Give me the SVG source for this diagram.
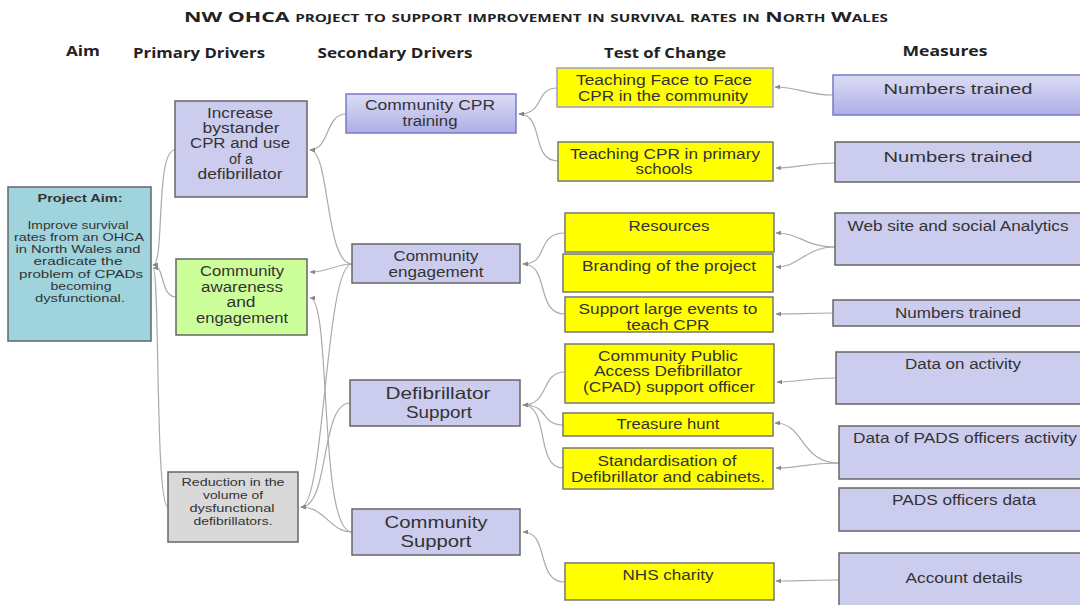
<svg xmlns="http://www.w3.org/2000/svg" width="1080" height="605" viewBox="0 0 1080 605">
  <style>
    .title { font-family: "Open Sans", "Liberation Sans", sans-serif; font-weight: bold; fill: #222; }
    .hdr { font-family: "Open Sans", "Liberation Sans", sans-serif; font-weight: bold; font-size: 14px; fill: #222; text-anchor: middle; }
    .t { font-family: "Liberation Sans", Arial, sans-serif; fill: #333; text-anchor: middle; }
    .lav { fill: #ccccee; stroke: #666; stroke-width: 1.5; }
    .yel { fill: #ffff00; stroke: #777; stroke-width: 1.5; }
    .yelb { fill: #ffff00; stroke: #9a9ad0; stroke-width: 1.5; }
    .con { fill: none; stroke: #aaa; stroke-width: 1.2; marker-end: url(#ah); }
  </style>
  <defs>
    <linearGradient id="lavGrad" x1="0" y1="0" x2="0" y2="1">
      <stop offset="0" stop-color="#dcdcf6"/>
      <stop offset="1" stop-color="#aeaee6"/>
    </linearGradient>
    <marker id="ah" viewBox="0 0 10 10" refX="9" refY="5" markerWidth="6" markerHeight="6" orient="auto" markerUnits="userSpaceOnUse">
      <path d="M0,1 L10,5 L0,9 z" fill="#888"/>
    </marker>
  </defs>

  <rect width="1080" height="605" fill="#fff"/>

  <!-- title and column headings -->
  <text class="title" x="536" y="22" text-anchor="middle" font-size="14" font-variant="small-caps" textLength="704" lengthAdjust="spacingAndGlyphs">NW OHCA project to support improvement in survival rates in North Wales</text>
  <text class="hdr" x="83" y="56" textLength="34" lengthAdjust="spacingAndGlyphs">Aim</text>
  <text class="hdr" x="199" y="58" textLength="132" lengthAdjust="spacingAndGlyphs">Primary Drivers</text>
  <text class="hdr" x="395" y="58" textLength="155" lengthAdjust="spacingAndGlyphs">Secondary Drivers</text>
  <text class="hdr" x="665" y="58" textLength="122" lengthAdjust="spacingAndGlyphs">Test of Change</text>
  <text class="hdr" x="945" y="56" textLength="85" lengthAdjust="spacingAndGlyphs">Measures</text>

  <!-- connectors -->
  <g id="connectors">
    <!-- measures to tests of change -->
    <path class="con" d="M833 95 C805 95 800 87 775 87"/>
    <path class="con" d="M835 163 C805 163 800 168 776 168"/>
    <path class="con" d="M835 247 C805 247 800 233 776 233"/>
    <path class="con" d="M835 247 C805 247 800 267 776 267"/>
    <path class="con" d="M833 313 C805 313 800 314 776 314"/>
    <path class="con" d="M836 378 C805 378 800 382 777 382"/>
    <path class="con" d="M839 463 C800 463 805 423 775 423"/>
    <path class="con" d="M839 463 C805 463 800 468 776 468"/>
    <path class="con" d="M839 580 C805 580 800 581 776 581"/>
    <!-- tests of change to secondary drivers -->
    <path class="con" d="M557 88 C535 88 545 114 519 114"/>
    <path class="con" d="M558 161 C530 161 545 114 519 114"/>
    <path class="con" d="M565 233 C535 233 550 264 523 264"/>
    <path class="con" d="M565 314 C535 314 550 264 523 264"/>
    <path class="con" d="M565 372 C540 372 550 405 523 405"/>
    <path class="con" d="M563 425 C540 425 550 405 523 405"/>
    <path class="con" d="M563 468 C535 468 550 405 523 405"/>
    <path class="con" d="M565 582 C535 582 550 532 523 532"/>
    <!-- secondary drivers to primary drivers -->
    <path class="con" d="M346 114 C325 114 330 150 310 150"/>
    <path class="con" d="M352 264 C325 264 330 150 310 150"/>
    <path class="con" d="M352 264 C335 264 330 272 310 272"/>
    <path class="con" d="M352 264 C325 264 325 507 301 507"/>
    <path class="con" d="M350 403 C320 403 330 507 301 507"/>
    <path class="con" d="M352 532 C318 532 332 298 310 298"/>
    <path class="con" d="M352 532 C330 532 325 507 301 507"/>
    <!-- primary drivers to aim -->
    <path class="con" d="M175 150 C155 150 165 265 153 265"/>
    <path class="con" d="M176 297 C160 297 165 265 153 265"/>
    <path class="con" d="M168 507 C155 507 160 268 153 268"/>
  </g>

  <!-- aim -->
  <g id="aim">
    <rect x="8" y="187" width="143" height="154" fill="#a0d4dc" stroke="#666" stroke-width="1.5"/>
    <text class="t" x="80" y="202" font-size="10.5" font-weight="bold" textLength="85" lengthAdjust="spacingAndGlyphs">Project Aim:</text>
    <text class="t" x="78" y="229" font-size="10.5" textLength="101" lengthAdjust="spacingAndGlyphs">Improve  survival</text>
    <text class="t" x="79" y="241" font-size="10.5" textLength="130" lengthAdjust="spacingAndGlyphs">rates from an OHCA</text>
    <text class="t" x="78" y="253" font-size="10.5" textLength="125" lengthAdjust="spacingAndGlyphs">in North Wales and</text>
    <text class="t" x="78" y="265" font-size="10.5" textLength="89" lengthAdjust="spacingAndGlyphs">eradicate the</text>
    <text class="t" x="81" y="278" font-size="10.5" textLength="124" lengthAdjust="spacingAndGlyphs">problem of CPADs</text>
    <text class="t" x="81" y="290" font-size="10.5" textLength="61" lengthAdjust="spacingAndGlyphs">becoming</text>
    <text class="t" x="80" y="302" font-size="10.5" textLength="90" lengthAdjust="spacingAndGlyphs">dysfunctional.</text>
  </g>

  <!-- primary drivers -->
  <g id="p-bystander">
    <rect class="lav" x="175" y="101" width="132" height="96"/>
    <text class="t" x="240" y="118" font-size="14" textLength="66" lengthAdjust="spacingAndGlyphs">Increase</text>
    <text class="t" x="241" y="133" font-size="14" textLength="77" lengthAdjust="spacingAndGlyphs">bystander</text>
    <text class="t" x="240" y="148" font-size="14" textLength="100" lengthAdjust="spacingAndGlyphs">CPR and use</text>
    <text class="t" x="241" y="164" font-size="14" textLength="24" lengthAdjust="spacingAndGlyphs">of a</text>
    <text class="t" x="240" y="179" font-size="14" textLength="85" lengthAdjust="spacingAndGlyphs">defibrillator</text>
  </g>
  <g id="p-awareness">
    <rect x="176" y="259" width="131" height="76" fill="#ccff99" stroke="#666" stroke-width="1.5"/>
    <text class="t" x="242" y="276" font-size="14" textLength="84" lengthAdjust="spacingAndGlyphs">Community</text>
    <text class="t" x="242" y="292" font-size="14" textLength="82" lengthAdjust="spacingAndGlyphs">awareness</text>
    <text class="t" x="241" y="307" font-size="14" textLength="29" lengthAdjust="spacingAndGlyphs">and</text>
    <text class="t" x="242" y="323" font-size="14" textLength="92" lengthAdjust="spacingAndGlyphs">engagement</text>
  </g>
  <g id="p-reduction">
    <rect x="168" y="472" width="130" height="70" fill="#d9d9d9" stroke="#666" stroke-width="1.5"/>
    <text class="t" x="233" y="486" font-size="11" textLength="103" lengthAdjust="spacingAndGlyphs">Reduction in the</text>
    <text class="t" x="233" y="499" font-size="11" textLength="60" lengthAdjust="spacingAndGlyphs">volume  of</text>
    <text class="t" x="232" y="512" font-size="11" textLength="85" lengthAdjust="spacingAndGlyphs">dysfunctional</text>
    <text class="t" x="233" y="525" font-size="11" textLength="79" lengthAdjust="spacingAndGlyphs">defibrillators.</text>
  </g>

  <!-- secondary drivers -->
  <g id="s-cpr-training">
    <rect x="346" y="94" width="170" height="39" fill="url(#lavGrad)" stroke="#7a7ac4" stroke-width="1.5"/>
    <text class="t" x="430" y="110" font-size="14" textLength="130" lengthAdjust="spacingAndGlyphs">Community  CPR</text>
    <text class="t" x="430" y="126" font-size="14" textLength="55" lengthAdjust="spacingAndGlyphs">training</text>
  </g>
  <g id="s-engagement">
    <rect class="lav" x="352" y="244" width="168" height="39"/>
    <text class="t" x="436" y="261" font-size="14" textLength="85" lengthAdjust="spacingAndGlyphs">Community</text>
    <text class="t" x="436" y="277" font-size="14" textLength="95" lengthAdjust="spacingAndGlyphs">engagement</text>
  </g>
  <g id="s-defib-support">
    <rect class="lav" x="350" y="380" width="170" height="46"/>
    <text class="t" x="438" y="399" font-size="16.5" textLength="105" lengthAdjust="spacingAndGlyphs">Defibrillator</text>
    <text class="t" x="439" y="418" font-size="16.5" textLength="66" lengthAdjust="spacingAndGlyphs">Support</text>
  </g>
  <g id="s-community-support">
    <rect class="lav" x="352" y="509" width="168" height="46"/>
    <text class="t" x="436" y="528" font-size="16.5" textLength="103" lengthAdjust="spacingAndGlyphs">Community</text>
    <text class="t" x="436" y="547" font-size="16.5" textLength="71" lengthAdjust="spacingAndGlyphs">Support</text>
  </g>

  <!-- tests of change -->
  <g id="t-face-to-face">
    <rect class="yelb" x="557" y="68" width="216" height="39"/>
    <text class="t" x="664" y="85" font-size="14" textLength="176" lengthAdjust="spacingAndGlyphs">Teaching Face to Face</text>
    <text class="t" x="663" y="101" font-size="14" textLength="170" lengthAdjust="spacingAndGlyphs">CPR in the community</text>
  </g>
  <g id="t-schools">
    <rect class="yel" x="558" y="142" width="215" height="39"/>
    <text class="t" x="665" y="159" font-size="14" textLength="190" lengthAdjust="spacingAndGlyphs">Teaching CPR in primary</text>
    <text class="t" x="664" y="174" font-size="14" textLength="57" lengthAdjust="spacingAndGlyphs">schools</text>
  </g>
  <g id="t-resources">
    <rect class="yel" x="565" y="213" width="209" height="39"/>
    <text class="t" x="669" y="231" font-size="14" textLength="81" lengthAdjust="spacingAndGlyphs">Resources</text>
  </g>
  <g id="t-branding">
    <rect class="yel" x="563" y="254" width="210" height="38"/>
    <text class="t" x="669" y="271" font-size="14" textLength="174" lengthAdjust="spacingAndGlyphs">Branding of the project</text>
  </g>
  <g id="t-events">
    <rect class="yel" x="565" y="297" width="208" height="35"/>
    <text class="t" x="668" y="314" font-size="14" textLength="179" lengthAdjust="spacingAndGlyphs">Support large events to</text>
    <text class="t" x="668" y="330" font-size="14" textLength="83" lengthAdjust="spacingAndGlyphs">teach CPR</text>
  </g>
  <g id="t-cpad-officer">
    <rect class="yel" x="565" y="344" width="209" height="59"/>
    <text class="t" x="668" y="361" font-size="14" textLength="140" lengthAdjust="spacingAndGlyphs">Community  Public</text>
    <text class="t" x="668" y="376" font-size="14" textLength="148" lengthAdjust="spacingAndGlyphs">Access Defibrillator</text>
    <text class="t" x="669" y="392" font-size="14" textLength="172" lengthAdjust="spacingAndGlyphs">(CPAD) support officer</text>
  </g>
  <g id="t-treasure-hunt">
    <rect class="yel" x="563" y="413" width="210" height="23"/>
    <text class="t" x="668" y="429" font-size="14" textLength="103" lengthAdjust="spacingAndGlyphs">Treasure  hunt</text>
  </g>
  <g id="t-standardisation">
    <rect class="yel" x="563" y="448" width="210" height="41"/>
    <text class="t" x="667" y="466" font-size="14" textLength="139" lengthAdjust="spacingAndGlyphs">Standardisation of</text>
    <text class="t" x="668" y="482" font-size="14" textLength="194" lengthAdjust="spacingAndGlyphs">Defibrillator and cabinets.</text>
  </g>
  <g id="t-nhs-charity">
    <rect class="yel" x="565" y="563" width="209" height="37"/>
    <text class="t" x="668" y="580" font-size="14" textLength="91" lengthAdjust="spacingAndGlyphs">NHS charity</text>
  </g>

  <!-- measures -->
  <g id="m-trained-1">
    <rect x="833" y="75" width="260" height="40" fill="url(#lavGrad)" stroke="#7a7ac4" stroke-width="1.5"/>
    <text class="t" x="958" y="94" font-size="15.5" textLength="149" lengthAdjust="spacingAndGlyphs">Numbers trained</text>
  </g>
  <g id="m-trained-2">
    <rect class="lav" x="835" y="142" width="258" height="40"/>
    <text class="t" x="958" y="162" font-size="15.5" textLength="149" lengthAdjust="spacingAndGlyphs">Numbers trained</text>
  </g>
  <g id="m-web">
    <rect class="lav" x="835" y="213" width="258" height="52"/>
    <text class="t" x="958" y="231" font-size="14" textLength="221" lengthAdjust="spacingAndGlyphs">Web site and social Analytics</text>
  </g>
  <g id="m-trained-3">
    <rect class="lav" x="833" y="300" width="260" height="26"/>
    <text class="t" x="958" y="318" font-size="14" textLength="126" lengthAdjust="spacingAndGlyphs">Numbers trained</text>
  </g>
  <g id="m-activity">
    <rect class="lav" x="836" y="352" width="257" height="52"/>
    <text class="t" x="963" y="369" font-size="14" textLength="116" lengthAdjust="spacingAndGlyphs">Data on activity</text>
  </g>
  <g id="m-pads-activity">
    <rect class="lav" x="839" y="426" width="254" height="53"/>
    <text class="t" x="965" y="443" font-size="14" textLength="224" lengthAdjust="spacingAndGlyphs">Data of PADS officers activity</text>
  </g>
  <g id="m-pads-data">
    <rect class="lav" x="839" y="488" width="254" height="43"/>
    <text class="t" x="964" y="505" font-size="14" textLength="144" lengthAdjust="spacingAndGlyphs">PADS officers data</text>
  </g>
  <g id="m-account">
    <rect class="lav" x="839" y="553" width="254" height="55"/>
    <text class="t" x="964" y="583" font-size="14" textLength="117" lengthAdjust="spacingAndGlyphs">Account details</text>
  </g>
</svg>
